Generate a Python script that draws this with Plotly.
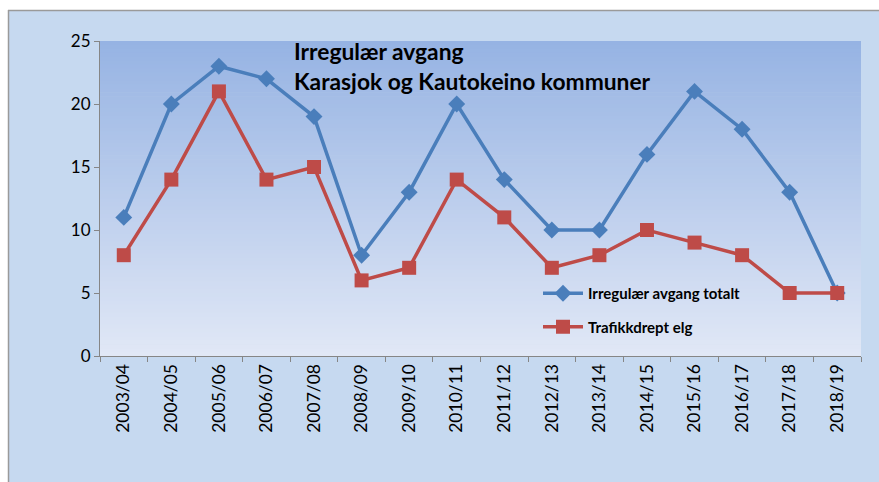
import plotly.graph_objects as go

seasons = ["2003/04", "2004/05", "2005/06", "2006/07", "2007/08", "2008/09", "2009/10",
           "2010/11", "2011/12", "2012/13", "2013/14", "2014/15", "2015/16", "2016/17",
           "2017/18", "2018/19"]
irregular_total = [11, 20, 23, 22, 19, 8, 13, 20, 14, 10, 10, 16, 21, 18, 13, 5]
traffic_killed = [8, 14, 21, 14, 15, 6, 7, 14, 11, 7, 8, 10, 9, 8, 5, 5]
y_ticks = [0, 5, 10, 15, 20, 25]

W, H = 879, 482
SL, SR, ST, SB = 100, 861, 41, 356  # plot area in screen pixels
L, T = SL, ST
R = W - SR
B = H - SB
pw, ph = SR - SL, SB - ST

def px_x(p):
    return (p - SL) / pw

def px_y(p):
    return (SB - p) / ph

FONT = "Lato, 'Open Sans', sans-serif"
BLUE = "#4A7EBB"
RED = "#BE4B48"

fig = go.Figure()
fig.add_trace(go.Scatter(
    x=seasons, y=irregular_total, name="<b>Irregulær avgang totalt</b>",
    mode="lines+markers", line=dict(color=BLUE, width=3.5),
    marker=dict(symbol="diamond", size=13, color=BLUE),
    legendgroup="a"))
fig.add_trace(go.Scatter(
    x=seasons, y=traffic_killed, name="<b>Trafikkdrept elg</b>",
    mode="lines+markers", line=dict(color=RED, width=3.5),
    marker=dict(symbol="square", size=14, color=RED),
    legendgroup="b"))

shapes = []
# outer frame fill
shapes.append(dict(type="rect", xref="paper", yref="paper", layer="below",
                   x0=px_x(8.5), x1=px_x(900), y0=px_y(500), y1=px_y(10.5),
                   fillcolor="#C6D9F0", line=dict(width=0)))
# frame border (top and left)
shapes.append(dict(type="line", xref="paper", yref="paper", layer="below",
                   x0=px_x(8), x1=px_x(900), y0=px_y(10.5), y1=px_y(10.5),
                   line=dict(color="#9A9A9A", width=1.5)))
shapes.append(dict(type="line", xref="paper", yref="paper", layer="below",
                   x0=px_x(8.5), x1=px_x(8.5), y0=px_y(10), y1=px_y(500),
                   line=dict(color="#9A9A9A", width=1.5)))
# gradient plot area
top = (150, 179, 227)
bot = (225, 232, 246)
n = 80
for i in range(n):
    f = (i + 0.5) / n
    c = tuple(round(top[k] + (bot[k] - top[k]) * f) for k in range(3))
    shapes.append(dict(type="rect", xref="paper", yref="paper", layer="below",
                       x0=0, x1=1, y0=1 - (i + 1) / n - 0.002, y1=1 - i / n,
                       fillcolor="rgb(%d,%d,%d)" % c, line=dict(width=0)))

annotations = [
    dict(text="<b>Irregulær avgang</b>", xref="paper", yref="paper",
         x=px_x(292), y=px_y(51), xanchor="left", yanchor="middle", showarrow=False,
         font=dict(family=FONT, size=22.8, color="black")),
    dict(text="<b>Karasjok og Kautokeino kommuner</b>", xref="paper", yref="paper",
         x=px_x(292), y=px_y(81), xanchor="left", yanchor="middle", showarrow=False,
         font=dict(family=FONT, size=22.8, color="black")),
]

fig.update_layout(
    width=W, height=H,
    margin=dict(l=L, r=R, t=T, b=B),
    paper_bgcolor="white", plot_bgcolor="rgba(0,0,0,0)",
    shapes=shapes, annotations=annotations,
    font=dict(family=FONT, color="black"),
    showlegend=True,
    legend=dict(x=px_x(538), y=px_y(277), xanchor="left", yanchor="top",
                bgcolor="rgba(0,0,0,0)", font=dict(family=FONT, size=15, color="black"),
                tracegroupgap=11, traceorder="grouped", itemwidth=40),
    xaxis=dict(type="category", tickangle=-90, ticks="outside", tickson="boundaries",
               ticklen=5, tickcolor="#868686", showline=True, linecolor="#868686",
               linewidth=1, showgrid=False, tickfont=dict(family=FONT, size=17.5),
               range=[-0.5, len(seasons) - 0.5]),
    yaxis=dict(range=[0, 25], tickvals=y_ticks, ticks="outside", ticklen=5,
               tickcolor="#868686", showline=True, linecolor="#868686", linewidth=1,
               showgrid=False, zeroline=False, tickfont=dict(family=FONT, size=17)),
)

fig.write_html("out.html", config={"displayModeBar": False},
               post_script="document.body.style.margin='0';document.body.style.overflow='hidden';")
